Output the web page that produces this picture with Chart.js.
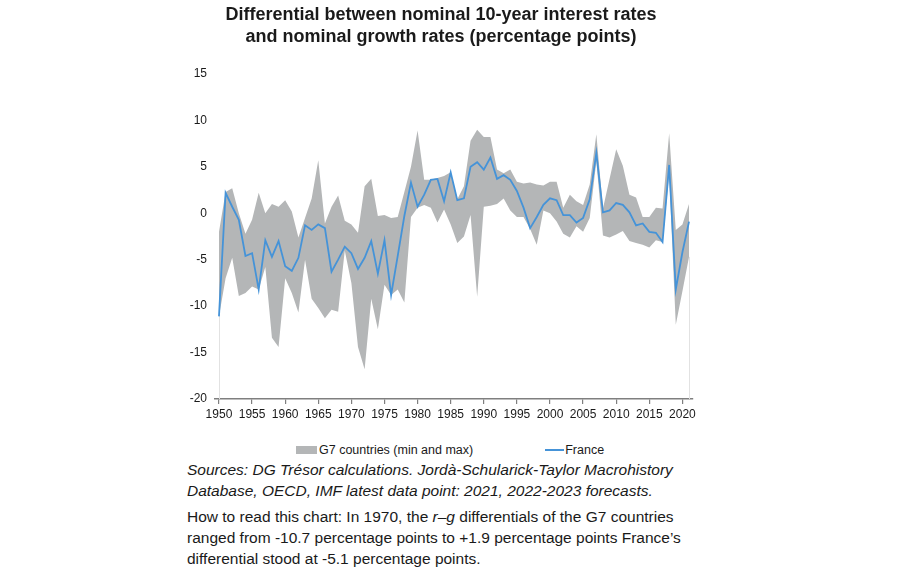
<!DOCTYPE html>
<html lang="en">
<head>
  <meta charset="UTF-8">
  <title>r - g differential, G7 and France</title>
  <script src="https://cdn.jsdelivr.net/npm/chart.js"></script>
  <style>
    body { margin: 0; background: #fff; font-family: Arial, "Liberation Sans", sans-serif; color: #1a1a1a; }
    #wrap { position: absolute; left: 161px; top: 0; width: 560px; height: 432px; }
    #legend { position: absolute; left: 296px; top: 441px; font-size: 12.5px; line-height: 16px; white-space: nowrap; }
    #legend span { display: inline-block; vertical-align: middle; }
    .band-key { width: 21px; height: 8px; margin-right: 2px; }
    .line-key { width: 19px; height: 0; border-top: 2px solid; margin-left: 72px; margin-right: 1px; }
    #notes { position: absolute; left: 187px; top: 459px; }
    #notes p { margin: 0; }
    .src { font-size: 15.5px; font-style: italic; line-height: 21px; }
    .read { font-size: 15.5px; line-height: 21px; margin-top: 5px !important; }
  </style>
</head>
<body>
  <div id="wrap"><canvas id="chart"></canvas></div>
  <div id="legend">
    <span class="band-key" id="bandKey"></span><span>G7 countries (min and max)</span><span class="line-key" id="lineKey"></span><span>France</span>
  </div>
  <div id="notes">
    <p class="src">Sources: DG Trésor calculations. Jordà-Schularick-Taylor Macrohistory<br>Database, OECD, IMF latest data point: 2021, 2022-2023 forecasts.</p>
    <p class="read">How to read this chart: In 1970, the <i>r–g</i> differentials of the G7 countries<br>ranged from -10.7 percentage points to +1.9 percentage points France’s<br>differential stood at -5.1 percentage points.</p>
  </div>

  <script>
    // years 1950 .. 2021
    const years = [];
    for (let y = 1950; y <= 2021; y++) years.push(y);

    const france = [
      -11.1, 2.2, 0.7, -0.7, -4.6, -4.3, -8.2, -2.9, -4.7, -3.0,
      -5.7, -6.2, -4.8, -1.3, -1.8, -1.2, -1.6, -6.3, -5.0, -3.6,
      -4.3, -6.0, -4.8, -3.0, -6.5, -2.9, -8.8, -4.6, -0.3, 3.3,
      0.7, 2.0, 3.6, 3.7, 1.3, 4.4, 1.4, 1.6, 5.0, 5.5,
      4.7, 6.0, 3.7, 4.1, 3.6, 2.4, 0.6, -1.6, -0.4, 0.9,
      1.6, 1.4, -0.2, -0.2, -1.0, -0.5, 1.5, 6.5, 0.1, 0.3,
      1.1, 0.9, 0.1, -1.3, -1.1, -2.0, -2.1, -3.1, 5.2, -8.2,
      -4.2, -0.9
    ];
    const g7Max = [
      -2.0, 2.3, 2.7, 0.0, -2.2, -0.7, 2.2, 0.0, 1.0, 0.7,
      1.4, 0.2, -2.6, -0.5, 1.6, 5.7, -1.1, 0.7, 1.9, -0.8,
      -1.2, -2.1, 2.9, 3.7, -0.3, -0.2, -0.5, -0.4, 2.3, 5.0,
      8.9, 3.6, 3.6, 3.8, 4.0, 4.4, 1.5, 2.9, 7.8, 9.0,
      8.2, 8.2, 4.7, 4.3, 4.7, 3.4, 3.2, 3.3, 3.1, 3.0,
      3.4, 3.4, 0.6, 2.0, 1.3, 0.9, 3.1, 8.5, 0.5, 3.7,
      6.9, 5.1, 2.0, 1.7, -0.4, -0.4, 0.6, 0.5, 8.6, -1.8,
      -1.2, 1.0
    ];
    const g7Min = [
      -11.1, -7.0, -4.8, -8.9, -8.6, -7.9, -8.2, -5.8, -13.4, -14.4,
      -7.0, -8.6, -10.7, -5.0, -9.2, -10.2, -11.3, -10.4, -10.6, -4.0,
      -7.5, -14.4, -16.8, -9.2, -12.5, -7.7, -8.8, -8.2, -9.6, -0.4,
      0.6, 0.9, 0.6, -1.0, 0.4, -1.2, -3.2, -2.5, -0.2, -9.0,
      0.7, 0.8, 1.0, 1.6, 0.3, -0.4, -0.4, -1.7, -3.4, 0.3,
      0.0, -0.9, -2.2, -2.6, -1.4, -2.0, -0.5, 5.6, -2.4, -2.6,
      -2.3, -1.9, -3.0, -3.2, -3.4, -3.7, -2.9, -3.1, 4.2, -12.0,
      -8.4, -4.7
    ];
    const xTicks = [1950, 1955, 1960, 1965, 1970, 1975, 1980, 1985, 1990, 1995, 2000, 2005, 2010, 2015, 2020];
    const yTicks = [15, 10, 5, 0, -5, -10, -15, -20];

    const bandColor = '#b4b6b7';
    const lineColor = '#4593d8';
    const textColor = '#1a1a1a';
    const axisFont = { family: 'Arial, "Liberation Sans", sans-serif', size: 12 };

    document.getElementById('bandKey').style.background = bandColor;
    document.getElementById('lineKey').style.borderColor = lineColor;

    const pts = arr => arr.map((v, i) => ({ x: years[i], y: v }));

    // faint drop lines under the band at first and last year (like the original area chart edges)
    const bandEdges = {
      id: 'bandEdges',
      beforeDatasetsDraw(chart) {
        const { ctx, scales: { x, y } } = chart;
        ctx.save();
        ctx.strokeStyle = '#e2e2e2';
        ctx.lineWidth = 1;
        [0, years.length - 1].forEach(i => {
          const px = Math.round(x.getPixelForValue(years[i])) + 0.5;
          ctx.beginPath();
          ctx.moveTo(px, y.getPixelForValue(g7Min[i]));
          ctx.lineTo(px, y.getPixelForValue(-20));
          ctx.stroke();
        });
        ctx.restore();
      }
    };

    new Chart(document.getElementById('chart'), {
      type: 'line',
      data: {
        datasets: [
          // France first so it is painted over the band
          { label: 'France', data: pts(france), borderColor: lineColor, borderWidth: 1.8,
            pointRadius: 0, fill: false, tension: 0, order: 0 },
          { label: 'min', data: pts(g7Min), borderWidth: 0, pointRadius: 0, fill: false, order: 2 },
          { label: 'G7 countries (min and max)', data: pts(g7Max), borderWidth: 0, pointRadius: 0,
            backgroundColor: bandColor, fill: '-1', order: 1 }
        ]
      },
      plugins: [bandEdges],
      options: {
        responsive: true,
        maintainAspectRatio: false,
        animation: false,
        layout: { padding: { left: 0, right: 0, top: 0, bottom: 3 } },
        plugins: {
          legend: { display: false },
          tooltip: { enabled: false },
          title: {
            display: true,
            text: ['Differential between nominal 10-year interest rates', 'and nominal growth rates (percentage points)'],
            color: textColor,
            font: { family: 'Arial, "Liberation Sans", sans-serif', size: 18, weight: 'bold', lineHeight: 1.22 },
            padding: { top: 4, bottom: 26 }
          }
        },
        scales: {
          x: {
            type: 'linear',
            min: 1949.4,
            max: 2021.6,
            afterFit: s => { s.height = 30; },
            afterBuildTicks: s => { s.ticks = xTicks.map(v => ({ value: v })); },
            ticks: { color: textColor, font: axisFont, padding: 3, maxRotation: 0, callback: v => String(v) },
            grid: { display: true, drawOnChartArea: false, drawTicks: true, tickLength: 5, color: '#7f7f7f', lineWidth: 1.2 },
            border: { display: true, color: '#7f7f7f', width: 1.5 }
          },
          y: {
            min: -20,
            max: 15,
            afterFit: s => { s.width = 54; },
            afterBuildTicks: s => { s.ticks = yTicks.map(v => ({ value: v })); },
            ticks: { color: textColor, font: axisFont, padding: 8 },
            grid: { display: false, drawTicks: false },
            border: { display: false }
          },
          // empty right-hand axis, only reserves the right margin so the title stays centred on the canvas
          yRight: {
            position: 'right',
            min: -20,
            max: 15,
            afterFit: s => { s.width = 28; },
            ticks: { display: false },
            grid: { display: false, drawTicks: false },
            border: { display: false }
          }
        }
      }
    });
  </script>
</body>
</html>
